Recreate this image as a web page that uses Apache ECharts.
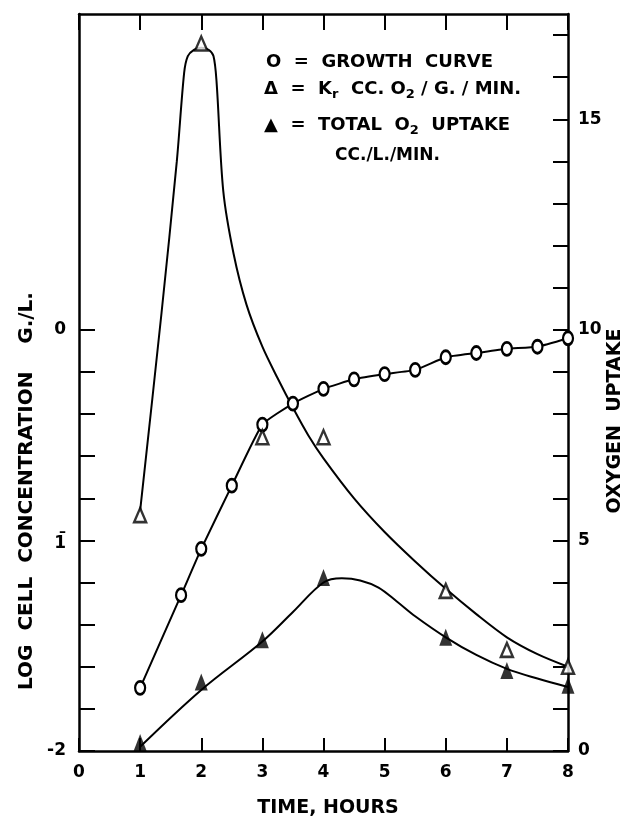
<!DOCTYPE html>
<html>
<head>
<meta charset="utf-8">
<script src="https://cdn.jsdelivr.net/npm/echarts@6.0.0/dist/echarts.min.js"></script>
<style>
  html, body { margin: 0; padding: 0; background: #fff; }
  #chart { width: 625px; height: 821px; }
</style>
</head>
<body>
<div id="chart"></div>
<script>
// growth curve (open circles), left axis: log cell concentration g/L
const growthTime = [1, 1.67, 2, 2.5, 3, 3.5, 4, 4.5, 5, 5.5, 6, 6.5, 7, 7.5, 8]
const growthLog = [-1.70, -1.26, -1.04, -0.74, -0.45, -0.35, -0.28, -0.235, -0.21, -0.19, -0.13, -0.11, -0.09, -0.08, -0.04]

// Kr cc O2/g/min (open triangles), right axis
const krTime = [1, 2, 3, 4, 6, 7, 8]
const krRate = [5.6, 16.8, 7.45, 7.45, 3.8, 2.4, 2.0]
// hand drawn fit through Kr
const krFitTime = [1.0, 1.35, 1.6, 1.72, 1.78, 1.88, 2.0, 2.12, 2.2, 2.25, 2.36, 2.53, 2.74, 3.0, 3.25, 3.5, 3.75, 4.0, 4.5, 5.0, 5.5, 6.0, 6.5, 7.0, 7.5, 8.0]
const krFitRate = [5.7, 10.4, 14.0, 16.1, 16.5, 16.65, 16.7, 16.65, 16.5, 15.9, 13.3, 11.8, 10.6, 9.6, 8.85, 8.15, 7.5, 6.95, 6.0, 5.2, 4.5, 3.85, 3.25, 2.7, 2.3, 2.0]

// total O2 uptake cc/L/min (filled triangles), right axis
const uptakeTime = [1, 2, 3, 4, 6, 7, 8]
const uptakeTotal = [0.2, 1.64, 2.64, 4.12, 2.7, 1.91, 1.56]
const uptakeFitTime = [1.0, 2.0, 3.0, 3.5, 4.0, 4.3, 4.6, 4.9, 5.2, 5.5, 6.0, 6.5, 7.0, 7.5, 8.0]
const uptakeFit = [0.1, 1.45, 2.6, 3.3, 4.0, 4.1, 4.05, 3.88, 3.55, 3.2, 2.7, 2.28, 1.95, 1.72, 1.52]

// axes
const timeLabels = [0, 1, 2, 3, 4, 5, 6, 7, 8]
const logTicks = [-2, -1.8, -1.6, -1.4, -1.2, -1, -0.8, -0.6, -0.4, -0.2, 0]
const logLabels = [-2, -1, 0]
const uptakeTicks = [0, 1, 2, 3, 4, 5, 6, 7, 8, 9, 10, 11, 12, 13, 14, 15, 16, 17]
const uptakeLabels = [0, 5, 10, 15]

const zip = (xs, ys) => xs.map((x, i) => [x, ys[i]])

const FONT = 'DejaVu Sans'
const INK = '#000'

const chart = echarts.init(document.getElementById('chart'), null, { renderer: 'canvas' })

const axisLine = { show: true, onZero: false, lineStyle: { color: INK, width: 2.5 } }
const tickStyle = { color: INK, width: 2 }
const labelStyle = { color: INK, fontFamily: FONT, fontWeight: 'bold', fontSize: 17 }

chart.setOption({
  backgroundColor: '#fff',
  animation: false,
  grid: { left: 79, right: 57, top: 14, bottom: 70 },
  xAxis: [
    {
      type: 'value', min: 0, max: 8, interval: 1, position: 'bottom',
      axisLine,
      axisTick: { inside: true, length: 13, lineStyle: tickStyle },
      axisLabel: { ...labelStyle, margin: 13, customValues: timeLabels },
      splitLine: { show: false }
    },
    {
      type: 'value', min: 0, max: 8, interval: 1, position: 'top',
      axisLine,
      axisTick: { inside: true, length: 16, lineStyle: tickStyle },
      axisLabel: { show: false },
      splitLine: { show: false }
    }
  ],
  yAxis: [
    {
      type: 'value', min: -2, max: 1.5, position: 'left',
      axisLine,
      axisTick: { inside: true, length: 16, lineStyle: tickStyle, customValues: logTicks },
      axisLabel: {
        ...labelStyle, margin: 13,
        customValues: logLabels,
        // the figure writes -1 in bar notation
        formatter: v => (v === -1 ? '{bar|\u2013}\n{num|1}' : String(v)),
        rich: {
          bar: { fontFamily: FONT, fontWeight: 'bold', fontSize: 14, lineHeight: 7, color: INK },
          num: { fontFamily: FONT, fontWeight: 'bold', fontSize: 17, lineHeight: 17, color: INK }
        }
      },
      splitLine: { show: false }
    },
    {
      type: 'value', min: 0, max: 17.5, position: 'right',
      axisLine,
      axisTick: { inside: true, length: 15, lineStyle: tickStyle, customValues: uptakeTicks },
      axisLabel: { ...labelStyle, margin: 10, customValues: uptakeLabels },
      splitLine: { show: false }
    }
  ],
  series: [
    {
      name: 'Kr fit', type: 'line', yAxisIndex: 1,
      data: zip(krFitTime, krFitRate),
      smooth: 0.3, showSymbol: false, silent: true,
      lineStyle: { color: INK, width: 2 }
    },
    {
      name: 'Uptake fit', type: 'line', yAxisIndex: 1,
      data: zip(uptakeFitTime, uptakeFit),
      smooth: 0.35, showSymbol: false, silent: true,
      lineStyle: { color: INK, width: 2 }
    },
    {
      name: 'Growth curve', type: 'line', yAxisIndex: 0,
      data: zip(growthTime, growthLog),
      smooth: 0.15,
      symbol: 'circle', symbolSize: [10, 13],
      itemStyle: { color: '#fff', borderColor: INK, borderWidth: 2.5 },
      lineStyle: { color: INK, width: 2 },
      z: 3
    },
    {
      name: 'Kr', type: 'scatter', yAxisIndex: 1,
      data: zip(krTime, krRate),
      symbol: 'triangle', symbolSize: [12, 14],
      itemStyle: { color: '#fff', borderColor: INK, borderWidth: 2.5 },
      z: 4
    },
    {
      name: 'Total O2 uptake', type: 'scatter', yAxisIndex: 1,
      data: zip(uptakeTime, uptakeTotal),
      symbol: 'triangle', symbolSize: [13, 17],
      itemStyle: { color: INK },
      z: 4
    }
  ],
  graphic: [
    {
      type: 'text', left: 266, top: 53,
      style: { text: 'O  =  GROWTH  CURVE', font: `bold 18px "${FONT}"`, fill: INK }
    },
    {
      type: 'text', left: 264, top: 80,
      style: {
        text: '\u0394  =  K{sub|r}  CC. O{sub|2} / G. / MIN.',
        font: `bold 18px "${FONT}"`, fill: INK,
        rich: { sub: { fontFamily: FONT, fontWeight: 'bold', fontSize: 13, padding: [12, 0, 0, 0] } }
      }
    },
    {
      type: 'text', left: 264, top: 116,
      style: {
        text: '\u25B2  =  TOTAL  O{sub|2}  UPTAKE',
        font: `bold 18px "${FONT}"`, fill: INK,
        rich: { sub: { fontFamily: FONT, fontWeight: 'bold', fontSize: 13, padding: [12, 0, 0, 0] } }
      }
    },
    {
      type: 'text', left: 335, top: 147,
      style: { text: 'CC./L./MIN.', font: `bold 17px "${FONT}"`, fill: INK }
    },
    {
      type: 'text', x: 328, y: 808,
      style: {
        text: 'TIME, HOURS', font: `bold 19px "${FONT}"`, fill: INK,
        align: 'center', verticalAlign: 'middle'
      }
    },
    {
      type: 'text', x: 27, y: 491, rotation: Math.PI / 2,
      style: {
        text: 'LOG  CELL  CONCENTRATION    G./L.', font: `bold 20px "${FONT}"`, fill: INK,
        align: 'center', verticalAlign: 'middle'
      }
    },
    {
      type: 'text', x: 615, y: 421, rotation: Math.PI / 2,
      style: {
        text: 'OXYGEN  UPTAKE', font: `bold 19px "${FONT}"`, fill: INK,
        align: 'center', verticalAlign: 'middle'
      }
    }
  ]
})
</script>
</body>
</html>
